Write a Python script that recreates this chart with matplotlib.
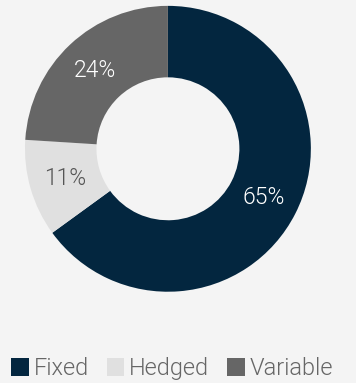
import matplotlib
matplotlib.use("Agg")
import matplotlib.pyplot as plt
from matplotlib.patches import Patch
import numpy as np

# hedging mix of the debt book
labels = ["Fixed", "Hedged", "Variable"]
shares = [65, 11, 24]
colors = ["#03263f", "#e0e0e0", "#666666"]
text_colors = ["white", "#555555", "white"]

bg = "#f4f4f4"
plt.rcParams["font.family"] = ["Roboto", "DejaVu Sans"]

fig = plt.figure(figsize=(3.56, 3.83), dpi=100, facecolor=bg)
ax = fig.add_axes([0.0702, 0.238, 0.803, 0.747])
ax.set_facecolor(bg)

wedges, texts = ax.pie(shares, colors=colors, startangle=90, counterclock=False,
                       radius=1.0, wedgeprops=dict(width=0.5, linewidth=0))
ax.set_aspect("equal")
ax.set_xlim(-1, 1)
ax.set_ylim(-1, 1)
ax.axis("off")

for w, val, tc in zip(wedges, shares, text_colors):
    mid = np.deg2rad((w.theta1 + w.theta2) / 2)
    r = 0.75
    ax.text(r * np.cos(mid), r * np.sin(mid), f"{val}%", ha="center", va="center",
            color=tc, fontsize=16.5, fontweight=300)

handles = [Patch(facecolor=c, edgecolor="none") for c in colors]
leg = fig.legend(handles, labels, loc="center", bbox_to_anchor=(0.483, 0.037), ncol=3,
                 frameon=False, handlelength=0.75, handleheight=0.75, handletextpad=0.2,
                 columnspacing=0.75, borderpad=0, prop=dict(size=17, weight=300))
for t in leg.get_texts():
    t.set_color("#666666")

fig.savefig("out.png", dpi=100, facecolor=bg)
